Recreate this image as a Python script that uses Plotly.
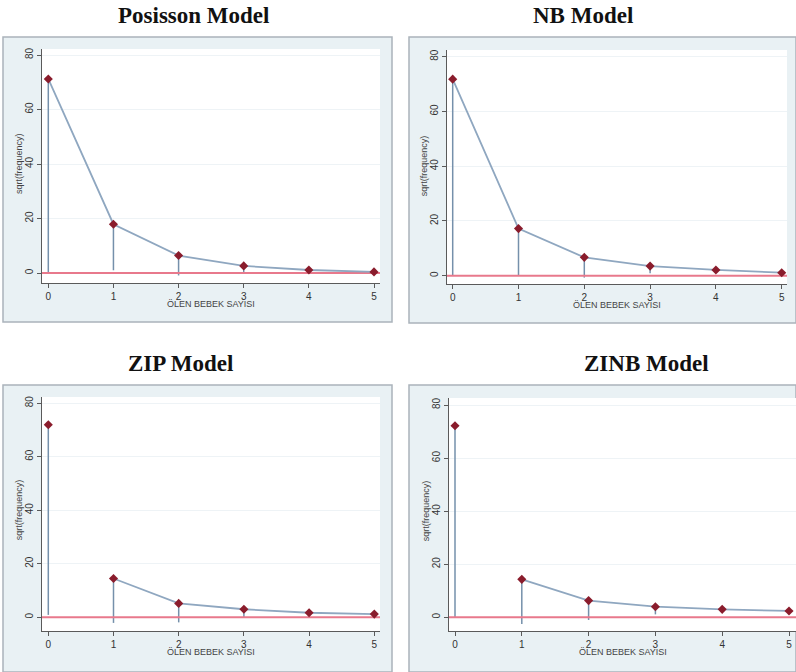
import plotly.graph_objects as go

# ---------------- data ----------------
counts = [0, 1, 2, 3, 4, 5]
x_tick_labels = ["0", "1", "2", "3", "4", "5"]
y_ticks = [0, 20, 40, 60, 80]
titles = ["Posisson Model", "NB Model", "ZIP Model", "ZINB Model"]
x_title = "ÖLEN BEBEK SAYISI"
y_title = "sqrt(frequency)"

# sqrt(expected frequency) (diamond markers)
poisson_fit = [71.2, 17.9, 6.4, 2.6, 1.1, 0.4]
nb_fit = [71.8, 17.2, 6.7, 3.5, 2.1, 1.1]
zip_fit = [72.0, 14.5, 5.2, 3.0, 1.7, 1.2]
zinb_fit = [72.2, 14.3, 6.3, 4.0, 3.0, 2.4]

# lower end of hanging bars (fit - sqrt(observed))
poisson_bottom = [0.0, 1.0, -0.9, -0.3, 0.3, 0.0]
nb_bottom = [0.0, 0.0, -0.7, 0.9, 1.4, 0.4]
zip_bottom = [0.9, -2.1, -1.9, 0.0, 0.8, 0.5]
zinb_bottom = [0.0, -2.5, -1.0, 1.1, 2.2, 1.8]

fits = [poisson_fit, nb_fit, zip_fit, zinb_fit]
bottoms = [poisson_bottom, nb_bottom, zip_bottom, zinb_bottom]
line_start = [0, 0, 1, 1]  # zero-inflated models: curve starts at 1

# ---------------- layout geometry (pixels) ----------------
W, H = 796, 672
panels = [
    dict(plot=(42, 380, 49, 283), x0=48.3, x5=374.0, y0=273.0, y80=55.0,
         frame=(3, 392, 37, 322), title=(193, 15), xt=304),
    dict(plot=(447, 787, 50, 284), x0=452.7, x5=781.7, y0=275.7, y80=56.7,
         frame=(409, 796, 37, 323), title=(583, 15), xt=305),
    dict(plot=(42, 380, 397, 631), x0=48.3, x5=374.3, y0=617.3, y80=403.3,
         frame=(3, 392, 385, 672), title=(180, 363), xt=652),
    dict(plot=(449, 796, 398, 631), x0=455.0, x5=789.0, y0=617.3, y80=405.0,
         frame=(409, 796, 385, 672), title=(646, 363), xt=652),
]

def px(p):
    return min(max(p / W, 0.0), 1.0)

def py(p):
    return min(max(1 - p / H, 0.0), 1.0)

FRAME_FILL = "#e9f1f4"
FRAME_LINE = "#aab3bb"
SPIKE = "#7590ab"
CURVE = "#8fa7c0"
MARK = "#8a1c2c"
ZERO = "#e8798c"
GRID = "#eef3f6"
AXIS = "#5a5a5a"

fig = go.Figure()
shapes = []
annotations = []

for i, p in enumerate(panels):
    L, R, T, B = p["plot"]
    sx = (p["x5"] - p["x0"]) / 5.0
    xmin = -(p["x0"] - L) / sx
    xmax = 5 + (R - p["x5"]) / sx
    sy = (p["y0"] - p["y80"]) / 80.0
    ymin = -(B - p["y0"]) / sy
    ymax = 80 + (p["y80"] - T) / sy

    xa = "xaxis" if i == 0 else f"xaxis{i+1}"
    ya = "yaxis" if i == 0 else f"yaxis{i+1}"
    xr = "x" if i == 0 else f"x{i+1}"
    yr = "y" if i == 0 else f"y{i+1}"

    fig.layout[xa] = dict(
        domain=[px(L), px(R)], range=[xmin, xmax], anchor=yr,
        tickvals=counts, ticktext=x_tick_labels, ticks="outside", ticklen=4,
        tickcolor=AXIS, showline=True, linecolor=AXIS, linewidth=1.3,
        showgrid=False, zeroline=False,
        tickfont=dict(family="Liberation Sans, Arial", size=10, color="#333333"),
        fixedrange=True,
    )
    fig.layout[ya] = dict(
        domain=[py(B), py(T)], range=[ymin, ymax], anchor=xr,
        tickvals=y_ticks, ticks="outside", ticklen=4, tickangle=-90,
        tickcolor=AXIS, showline=True, linecolor=AXIS, linewidth=1.3,
        showgrid=True, gridcolor=GRID, gridwidth=1, zeroline=False,
        tickfont=dict(family="Liberation Sans, Arial", size=10, color="#333333"),
        fixedrange=True,
    )

    fl, fr, ft, fb = p["frame"]
    shapes.append(dict(type="rect", xref="paper", yref="paper",
                       x0=px(fl), x1=px(fr), y0=py(fb), y1=py(ft),
                       fillcolor=FRAME_FILL, line=dict(color=FRAME_LINE, width=1.5),
                       layer="below"))
    shapes.append(dict(type="rect", xref="paper", yref="paper",
                       x0=px(L), x1=px(R), y0=py(B), y1=py(T),
                       fillcolor="white", line=dict(width=0), layer="below"))

    fit = fits[i]
    bot = bottoms[i]
    sxs, sys_ = [], []
    for c, f, b in zip(counts, fit, bot):
        sxs += [c, c, None]
        sys_ += [f, b, None]
    fig.add_trace(go.Scatter(x=sxs, y=sys_, mode="lines", xaxis=xr, yaxis=yr,
                             line=dict(color=SPIKE, width=1.5), hoverinfo="skip",
                             showlegend=False))
    # red zero reference line across the plot
    fig.add_trace(go.Scatter(x=[xmin, xmax], y=[0, 0], mode="lines", xaxis=xr, yaxis=yr,
                             line=dict(color=ZERO, width=2), hoverinfo="skip",
                             showlegend=False))
    s = line_start[i]
    fig.add_trace(go.Scatter(x=counts[s:], y=fit[s:], mode="lines", xaxis=xr, yaxis=yr,
                             line=dict(color=CURVE, width=1.8), showlegend=False))
    fig.add_trace(go.Scatter(x=counts, y=fit, mode="markers", xaxis=xr, yaxis=yr,
                             marker=dict(symbol="diamond", size=7, color=MARK),
                             showlegend=False))

    tx, ty = p["title"]
    annotations.append(dict(text=f"<b>{titles[i]}</b>", xref="paper", yref="paper",
                            x=px(tx), y=py(ty), xanchor="center", yanchor="middle",
                            showarrow=False,
                            font=dict(family="Liberation Serif, Times New Roman",
                                      size=23, color="#111111")))
    annotations.append(dict(text=x_title, xref="paper", yref="paper",
                            x=px((L + R) / 2), y=py(p["xt"]), xanchor="center",
                            yanchor="middle", showarrow=False,
                            font=dict(family="Liberation Sans, Arial", size=9,
                                      color="#444444")))
    annotations.append(dict(text=y_title, xref="paper", yref="paper",
                            x=px(L - 23), y=py((p["y0"] + p["y80"]) / 2),
                            xanchor="center", yanchor="middle", textangle=-90,
                            showarrow=False,
                            font=dict(family="Liberation Sans, Arial", size=9,
                                      color="#444444")))

fig.update_layout(
    width=W, height=H, margin=dict(l=0, r=0, t=0, b=0),
    paper_bgcolor="white", plot_bgcolor="rgba(0,0,0,0)",
    shapes=shapes, annotations=annotations, showlegend=False,
)

fig.write_html("out.html", config={"displayModeBar": False},
               post_script="document.body.style.margin='0';document.body.style.padding='0';")
